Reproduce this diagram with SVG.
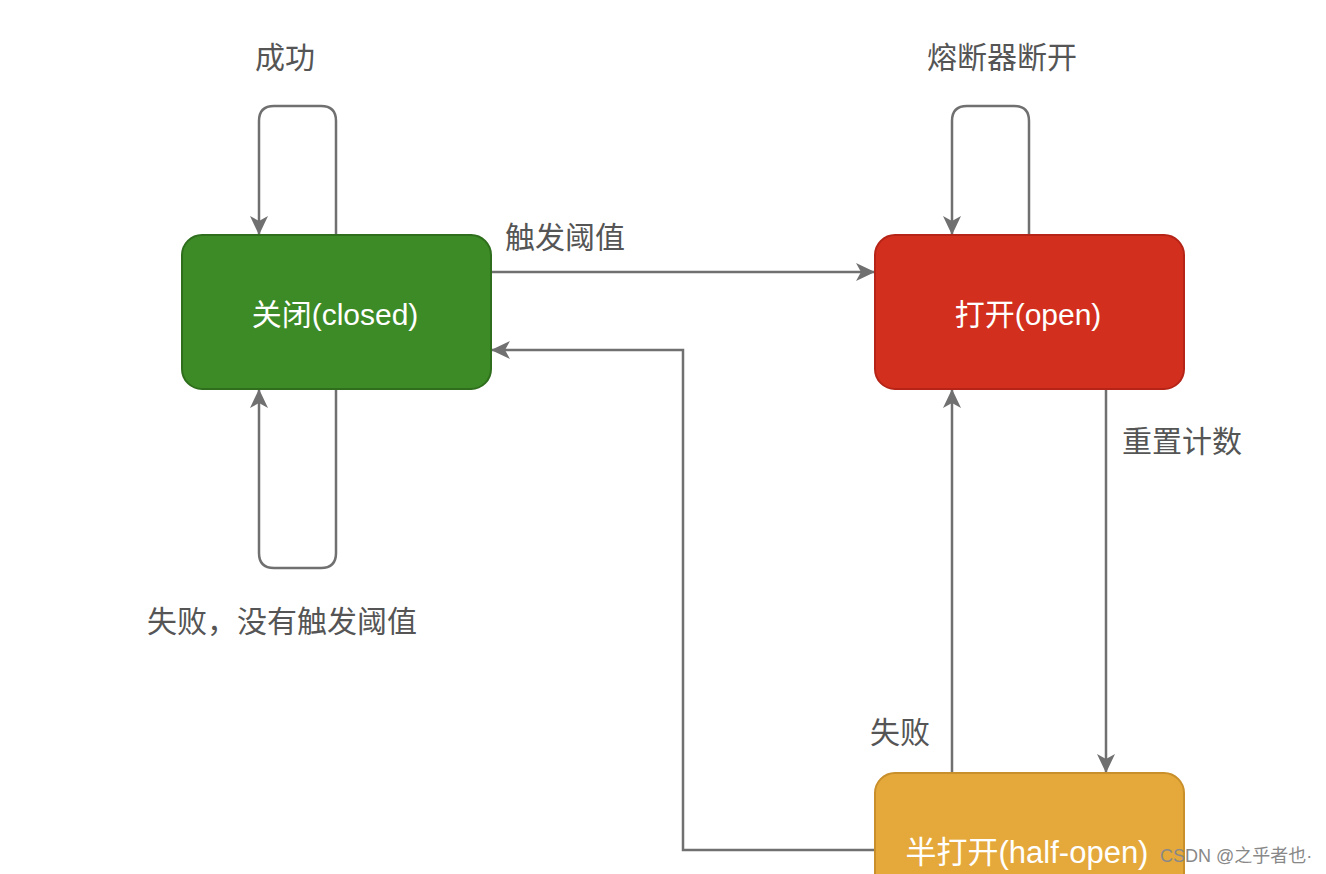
<svg xmlns="http://www.w3.org/2000/svg" width="1326" height="874" viewBox="0 0 1326 874">
<style>
.e{fill:none;stroke:#707070;stroke-width:2.5}
.lbl{font-family:"Liberation Sans","Noto Sans CJK SC",sans-serif;font-size:30px;fill:#555}
.nt{font-family:"Liberation Sans","Noto Sans CJK SC",sans-serif;fill:#fff;text-anchor:middle}
</style>
<defs>
<marker id="a" viewBox="0 0 19 18" refX="18" refY="9" markerWidth="19" markerHeight="18" markerUnits="userSpaceOnUse" orient="auto">
<path d="M0,0 L19,9 L0,18 L5,9 Z" fill="#707070"/>
</marker>
</defs>
<rect width="1326" height="874" fill="#fff"/>
<g id="connectors">
<path class="e" d="M336,235 V121 Q336,106 321,106 H274 Q259,106 259,121 V234" marker-end="url(#a)"/>
<path class="e" d="M336,389 V553 Q336,568 321,568 H274 Q259,568 259,553 V390" marker-end="url(#a)"/>
<path class="e" d="M1029,235 V121 Q1029,106 1014,106 H967 Q952,106 952,121 V234" marker-end="url(#a)"/>
<path class="e" d="M491,272 H874" marker-end="url(#a)"/>
<path class="e" d="M875,850 H683 V350 H492" marker-end="url(#a)"/>
<path class="e" d="M1106,389 V772" marker-end="url(#a)"/>
<path class="e" d="M952,773 V390" marker-end="url(#a)"/>
</g>
<g id="closed">
<rect x="182" y="235" width="309" height="154" rx="20" fill="#3d8b26" stroke="#2e6e1c" stroke-width="2"/>
<text class="nt" x="335" y="325" font-size="30">关闭(closed)</text>
</g>
<g id="open">
<rect x="875" y="235" width="309" height="154" rx="20" fill="#d32f1e" stroke="#b52417" stroke-width="2"/>
<text class="nt" x="1028" y="325" font-size="30">打开(open)</text>
</g>
<g id="half-open">
<rect x="875" y="773" width="309" height="130" rx="20" fill="#e5a93b" stroke="#c98f2a" stroke-width="2"/>
<text class="nt" x="1027" y="863" font-size="31">半打开(half-open)</text>
</g>
<g id="labels">
<text class="lbl" x="255" y="68">成功</text>
<text class="lbl" x="927" y="68">熔断器断开</text>
<text class="lbl" x="505" y="248">触发阈值</text>
<text class="lbl" x="1122" y="452">重置计数</text>
<text class="lbl" x="147" y="632">失败，没有触发阈值</text>
<text class="lbl" x="870" y="743">失败</text>
</g>
<text x="1160" y="862" font-family="Liberation Sans,'Noto Sans CJK SC',sans-serif" font-size="18" fill="#888">CSDN @之乎者也·</text>
</svg>
